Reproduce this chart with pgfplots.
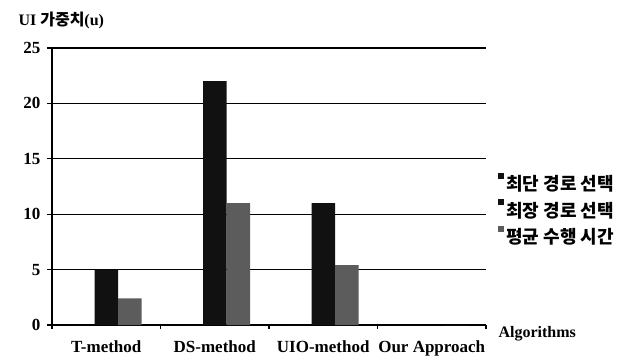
\documentclass[border=0pt]{standalone}
\usepackage{fontspec}
\setmainfont{Liberation Serif}
\newfontfamily\kr{Noto Sans CJK KR}
\usepackage{pgfplots}
\pgfplotsset{compat=1.18}
\definecolor{barblack}{HTML}{111111}
\definecolor{bargray}{HTML}{5C5C5C}
\begin{document}
\begin{tikzpicture}
\useasboundingbox (0,0) rectangle (634pt,357pt);
\begin{axis}[
  at={(52pt,32pt)}, anchor=south west,
  scale only axis, width=434pt, height=277pt,
  xmin=-0.5, xmax=3.5, ymin=0, ymax=25,
  axis x line=bottom, axis y line=left,
  axis line style={-, line width=1.4pt, black},
  ytick={0,5,...,25}, ymajorgrids,
  grid style={line width=1.3pt, black},
  xtick={0,1,2,3}, xticklabels={T-method,DS-method,UIO-method,Our Approach},
  minor xtick={-0.5,0.5,1.5,2.5,3.5},
  tick align=outside, major tick length=5pt, minor tick length=4pt,
  major x tick style={draw=none},
  minor x tick style={line width=1.3pt, black},
  major y tick style={line width=1.3pt, black},
  tick label style={font=\fontsize{17}{20}\selectfont\bfseries},
  /pgf/number format/assume math mode=true,
  xticklabel style={yshift=-7pt},
  yticklabel style={xshift=-3pt},
  ybar=0pt, bar width=23.5pt,
  legend style={at={(1.028,0.55)}, anchor=north west, draw=none, fill=none,
    font=\kr\fontsize{18}{21}\selectfont\bfseries, row sep=5pt, inner sep=0pt},
  legend cell align=left,
  legend image code/.code={\fill[#1] (0pt,5pt) rectangle (6pt,11pt);},
]
\addplot[fill=barblack, draw=none] coordinates {(0,0) (1,0) (2,0) (3,0)};
\addplot[fill=barblack, draw=none] coordinates {(0,5) (1,22) (2,11) (3,0)};
\addplot[fill=bargray, draw=none] coordinates {(0,2.4) (1,11) (2,5.4) (3,0)};
\legend{최단 경로 선택, 최장 경로 선택, 평균 수행 시간}
\end{axis}
\node[anchor=west, font=\fontsize{16}{19}\selectfont\bfseries] at (15pt,337pt) {UI {\kr 가중치}(u)};
\node[anchor=west, font=\fontsize{16}{19}\selectfont\bfseries] at (495pt,23pt) {Algorithms};
\end{tikzpicture}
\end{document}
